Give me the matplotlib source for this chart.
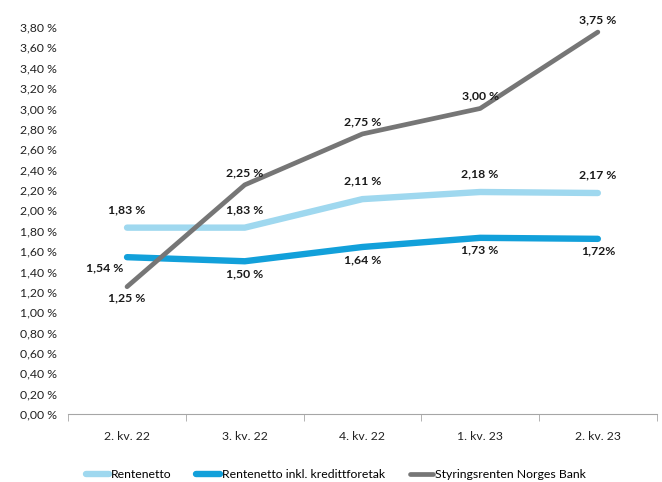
import numpy as np
import matplotlib.pyplot as plt

plt.rcParams['font.family'] = ['Lato', 'DejaVu Sans']

quarters = ["2. kv. 22", "3. kv. 22", "4. kv. 22", "1. kv. 23", "2. kv. 23"]
rentenetto = [1.83, 1.83, 2.11, 2.18, 2.17]
rentenetto_kf = [1.54, 1.50, 1.64, 1.73, 1.72]
styringsrenten = [1.25, 2.25, 2.75, 3.00, 3.75]

lbl_rn = ["1,83 %", "1,83 %", "2,11 %", "2,18 %", "2,17 %"]
lbl_kf = ["1,54 %", "1,50 %", "1,64 %", "1,73 %", "1,72%"]
lbl_sr = ["1,25 %", "2,25 %", "2,75 %", "3,00 %", "3,75 %"]

c_rn = "#9fd8ef"
c_kf = "#12a0da"
c_sr = "#767676"

fig = plt.figure(figsize=(6.62, 4.82), dpi=100)
ax = fig.add_axes([0.103, 0.141, 0.889, 0.803])

x = np.arange(len(quarters))
ax.plot(x, rentenetto, color=c_rn, lw=4.6, solid_capstyle="round", label="Rentenetto")
ax.plot(x, rentenetto_kf, color=c_kf, lw=4.6, solid_capstyle="round", label="Rentenetto inkl. kredittforetak")
ax.plot(x, styringsrenten, color=c_sr, lw=3.4, solid_capstyle="round", label="Styringsrenten Norges Bank")

kw = dict(fontsize=8.8, fontweight="bold", ha="center", color="#1a1a1a")
for i in range(len(x)):
    ax.annotate(lbl_rn[i], (x[i], rentenetto[i]), xytext=(0, 9), textcoords="offset points", va="bottom", **kw)
    if i == 0:
        ax.annotate(lbl_kf[i], (x[i], rentenetto_kf[i]), xytext=(-16, -4), textcoords="offset points", va="top", **kw)
    else:
        ax.annotate(lbl_kf[i], (x[i], rentenetto_kf[i]), xytext=(0, -5), textcoords="offset points", va="top", **kw)
    if i == 0:
        ax.annotate(lbl_sr[i], (x[i], styringsrenten[i]), xytext=(0, -4), textcoords="offset points", va="top", **kw)
    else:
        ax.annotate(lbl_sr[i], (x[i], styringsrenten[i]), xytext=(0, 5), textcoords="offset points", va="bottom", **kw)

ax.set_xlim(-0.5, len(x) - 0.5)
ax.set_ylim(0, 3.8)
yt = np.arange(0, 3.81, 0.2)
ax.set_yticks(yt)
ax.set_yticklabels([f"{v:.2f} %".replace(".", ",") for v in yt], fontsize=8.8, color="#222222")
ax.set_xticks(x)
ax.set_xticklabels(quarters, fontsize=8.8, color="#222222")
ax.set_xticks(np.arange(-0.5, len(x), 1), minor=True)
ax.tick_params(axis="x", which="major", length=0, pad=12)
ax.tick_params(axis="x", which="minor", length=5, color="#a6a6a6", direction="out")
ax.tick_params(axis="y", length=0, pad=8)
for s in ["top", "right", "left"]:
    ax.spines[s].set_visible(False)
ax.spines["bottom"].set_color("#a6a6a6")

ax.legend(loc="lower center", bbox_to_anchor=(0.455, -0.2), ncol=3, frameon=False,
          fontsize=8.8, handlelength=1.9, handletextpad=0.2, columnspacing=2.0)

fig.savefig("out.png", dpi=100)
